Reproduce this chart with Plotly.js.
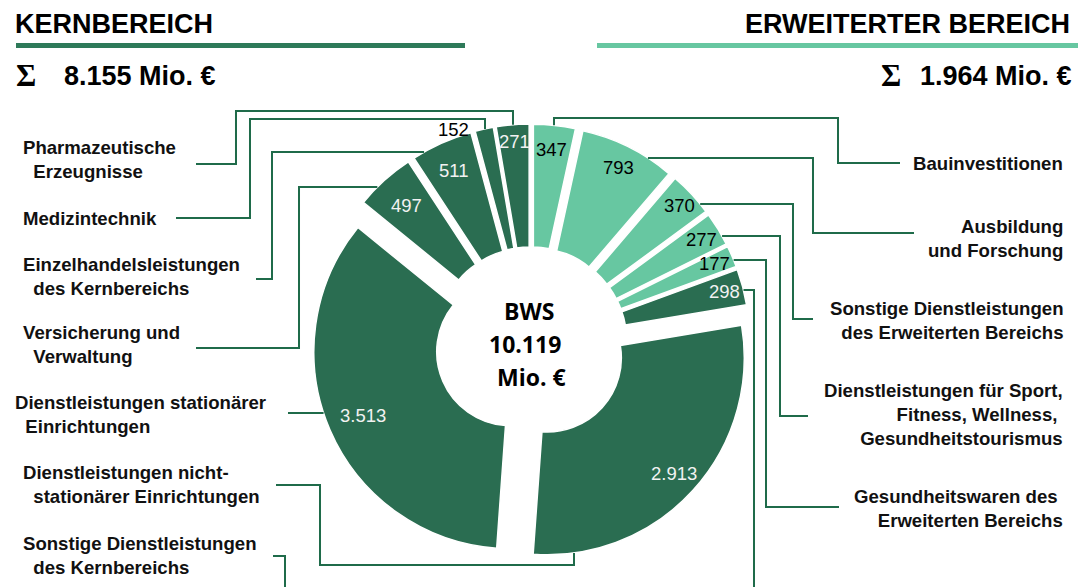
<!DOCTYPE html>
<html><head><meta charset="utf-8">
<script src="https://cdn.plot.ly/plotly-3.0.1.min.js"></script>
<style>html,body{margin:0;padding:0;background:#fff;overflow:hidden;} #chart{width:1078px;height:587px;}</style>
</head><body><div id="chart"></div>
<script>
// ---- data ----
const categories = [
  "Bauinvestitionen",
  "Ausbildung und Forschung",
  "Sonstige Dienstleistungen des Erweiterten Bereichs",
  "Dienstleistungen für Sport, Fitness, Wellness, Gesundheitstourismus",
  "Gesundheitswaren des Erweiterten Bereichs",
  "Sonstige Dienstleistungen des Kernbereichs",
  "Dienstleistungen nicht-stationärer Einrichtungen",
  "Dienstleistungen stationärer Einrichtungen",
  "Versicherung und Verwaltung",
  "Einzelhandelsleistungen des Kernbereichs",
  "Medizintechnik",
  "Pharmazeutische Erzeugnisse"
];
const values = [347, 793, 370, 277, 177, 298, 2913, 3513, 497, 511, 152, 271];
const groups = ["E","E","E","E","E","K","K","K","K","K","K","K"];
const labelLines = [
  ["Bauinvestitionen"],
  ["Ausbildung", "und Forschung"],
  ["Sonstige Dienstleistungen", "des Erweiterten Bereichs"],
  ["Dienstleistungen für Sport,", "Fitness, Wellness,\u00a0", "Gesundheitstourismus"],
  ["Gesundheitswaren des\u00a0", "Erweiterten Bereichs"],
  ["Sonstige Dienstleistungen", "\u00a0\u00a0des Kernbereichs"],
  ["Dienstleistungen nicht-", "\u00a0\u00a0stationärer Einrichtungen"],
  ["Dienstleistungen stationärer", "\u00a0\u00a0Einrichtungen"],
  ["Versicherung und", "\u00a0\u00a0Verwaltung"],
  ["Einzelhandelsleistungen", "\u00a0\u00a0des Kernbereichs"],
  ["Medizintechnik"],
  ["Pharmazeutische", "\u00a0\u00a0Erzeugnisse"]
];
const groupTitles = {K: "KERNBEREICH", E: "ERWEITERTER BEREICH"};
const centerLabel = "BWS";
const unit = "Mio. €";

// ---- styling / layout ----
const DARK = "#2a6d51", LIGHT = "#67c7a1", LINE = "#1f6b4a", BAR_DARK = "#2e7a59";
const W = 1078, H = 587;
const X = px => px / W, Y = py => 1 - py / H;
const fmt = n => String(n).replace(/\B(?=(\d{3})+(?!\d))/g, ".");

const total = values.reduce((a, b) => a + b, 0);
const sumOf = g => values.reduce((a, v, i) => a + (groups[i] === g ? v : 0), 0);

const PULL = 0.1117, HOLE = 0.376;
const domX = [312 / W, 750 / W], domY = [1 - 562 / H, 1 - 124 / H];
const boxW = W * (domX[1] - domX[0]), boxH = H * (domY[1] - domY[0]);
const R = Math.min(boxW / 2, boxH / 2) / (1 + PULL);
const CX = W * (domX[0] + domX[1]) / 2, CY = H * (1 - domY[0]) - boxH / 2;

// radial position of each value label (fraction of radius, from the pulled slice centre)
const labelRadius = [0.875, 0.885, 0.915, 0.9, 0.905, 0.905, 0.87, 0.815, 0.83, 0.85, 1.0, 0.915];

let cum = 0; const starts = [], ends = [], mids = [];
values.forEach(v => { const a0 = cum / total * 2 * Math.PI; cum += v; const a1 = cum / total * 2 * Math.PI; starts.push(a0); ends.push(a1); mids.push((a0 + a1) / 2); });
const sc = i => [CX + PULL * R * Math.sin(mids[i]), CY - PULL * R * Math.cos(mids[i])];
function hitV(i, x, below) { const [sx, sy] = sc(i); const d = Math.sqrt(Math.max(0, R * R - (x - sx) ** 2)); return [x, below ? sy + d : sy - d]; }
function hitH(i, y, right) { const [sx, sy] = sc(i); const d = Math.sqrt(Math.max(0, R * R - (y - sy) ** 2)); return [right ? sx + d : sx - d, y]; }

const colors = groups.map(g => g === "K" ? DARK : LIGHT);

const pie = {
  type: "pie", values: values, labels: categories, sort: false, direction: "clockwise", rotation: 0,
  hole: HOLE, pull: values.map(() => PULL), textinfo: "none", hoverinfo: "label+value",
  marker: {colors: colors, line: {color: "#ffffff", width: 1.5}},
  domain: {x: domX, y: domY}, showlegend: false
};

const annotations = [];
const shapes = [];

// value labels
values.forEach((v, i) => {
  let px, py, xa = "center", col = groups[i] === "K" ? "#f2f2f2" : "#000000";
  const [sx, sy] = sc(i);
  if (i === 10) { // thin slice: label outside, beside its outer start corner
    px = sx + R * Math.sin(starts[i]) - 6; py = sy - R * Math.cos(starts[i]) - 2; xa = "right"; col = "#000000";
  } else {
    const rr = labelRadius[i] * R;
    px = sx + rr * Math.sin(mids[i]); py = sy - rr * Math.cos(mids[i]);
  }
  annotations.push({xref: "paper", yref: "paper", x: X(px), y: Y(py), xanchor: xa, yanchor: "middle", showarrow: false,
    text: fmt(v), font: {family: "Liberation Sans, Arial, sans-serif", size: 18.5, color: col}, borderpad: 0, borderwidth: 0});
});

// category labels: [x, yMid, side]
const labelPos = [
  [1063, 163, "R"], [1063, 238, "R"], [1063, 320, "R"], [1063, 414, "R"], [1063, 508, "R"],
  [23, 555.5, "L"], [23, 484.5, "L"], [15, 414.5, "L"], [23, 344.5, "L"], [23, 276.5, "L"], [23, 218, "L"], [23, 159, "L"]
];
labelLines.forEach((lines, i) => {
  const [px, py, side] = labelPos[i];
  annotations.push({xref: "paper", yref: "paper", x: X(px), y: Y(py), xanchor: side === "L" ? "left" : "right", yanchor: "middle",
    align: side === "L" ? "left" : "right", showarrow: false, text: lines.join("<br>"), borderpad: 0, borderwidth: 0,
    font: {family: "Liberation Sans, Arial, sans-serif", size: 18.6, color: "#111111", weight: "bold"}});
});

// leader lines: waypoints from the label, final segment reaches the (pulled) slice edge
const leaders = [
  {i: 0, pts: [[900,163],[838,163],[838,118],[554,118]], end: "Vtop"},
  {i: 1, pts: [[914,233],[813,233],[813,158]], end: "Hright"},
  {i: 2, pts: [[813,319],[793,319],[793,204]], end: "Hright"},
  {i: 3, pts: [[808,416],[780,416],[780,236]], end: "Hright"},
  {i: 4, pts: [[839,507],[766,507],[766,260]], end: "Hright"},
  {i: 5, pts: [[273,556],[285,556],[285,605],[754,605],[754,290]], end: "Hright"},
  {i: 6, pts: [[276,485],[320,485],[320,565],[574,565]], end: "Vbottom"},
  {i: 7, pts: [[288,413]], end: "Hleft"},
  {i: 8, pts: [[196,348],[299,348],[299,187]], end: "Hleft"},
  {i: 9, pts: [[256,279],[272,279],[272,152]], end: "Hleft"},
  {i: 10, pts: [[176,218],[250,218],[250,119],[485,119]], end: "Vtop"},
  {i: 11, pts: [[196,164],[236,164],[236,111],[513,111]], end: "Vtop"}
];
leaders.forEach(L => {
  const last = L.pts[L.pts.length - 1];
  let hit;
  if (L.end === "Vtop") hit = hitV(L.i, last[0], false);
  else if (L.end === "Vbottom") hit = hitV(L.i, last[0], true);
  else if (L.end === "Hright") hit = hitH(L.i, last[1], true);
  else hit = hitH(L.i, last[1], false);
  const all = L.pts.concat([hit]);
  const path = all.map((p, k) => (k ? "L" : "M") + X(p[0]).toFixed(5) + "," + Y(p[1]).toFixed(5)).join(" ");
  shapes.push({type: "path", xref: "paper", yref: "paper", path: path, line: {color: LINE, width: 2}, layer: "above"});
});

// header bars
shapes.push({type: "rect", xref: "paper", yref: "paper", x0: X(16), x1: X(465), y0: Y(48), y1: Y(43), fillcolor: BAR_DARK, line: {width: 0}});
shapes.push({type: "rect", xref: "paper", yref: "paper", x0: X(597), x1: X(1078), y0: Y(48), y1: Y(43), fillcolor: LIGHT, line: {width: 0}});

const hdrFont = {family: "Liberation Sans, Arial, sans-serif", size: 27, color: "#000000", weight: "bold"};
const sumFont = {family: "Liberation Sans, Arial, sans-serif", size: 27, color: "#000000", weight: "bold"};
annotations.push({xref: "paper", yref: "paper", x: X(15), y: Y(24), xanchor: "left", yanchor: "middle", showarrow: false, text: groupTitles.K, font: hdrFont, borderpad: 0, borderwidth: 0});
annotations.push({xref: "paper", yref: "paper", x: X(1070), y: Y(24), xanchor: "right", yanchor: "middle", showarrow: false, text: groupTitles.E, font: hdrFont, borderpad: 0, borderwidth: 0});
const sigFont = {family: "Liberation Serif, Times New Roman, serif", size: 31, color: "#000000", weight: "bold"};
annotations.push({xref: "paper", yref: "paper", x: X(16), y: Y(75), xanchor: "left", yanchor: "middle", showarrow: false, text: "Σ", font: sigFont, borderpad: 0, borderwidth: 0});
annotations.push({xref: "paper", yref: "paper", x: X(64), y: Y(76), xanchor: "left", yanchor: "middle", showarrow: false, text: fmt(sumOf("K")) + " " + unit, font: sumFont, borderpad: 0, borderwidth: 0});
annotations.push({xref: "paper", yref: "paper", x: X(881), y: Y(75), xanchor: "left", yanchor: "middle", showarrow: false, text: "Σ", font: sigFont, borderpad: 0, borderwidth: 0});
annotations.push({xref: "paper", yref: "paper", x: X(1072), y: Y(76), xanchor: "right", yanchor: "middle", showarrow: false, text: fmt(sumOf("E")) + " " + unit, font: sumFont, borderpad: 0, borderwidth: 0});

// centre text
const cFont = {family: "Open Sans, sans-serif", size: 23, color: "#000000", weight: "bold"};
const cShift = [-2, -6, 0];
[centerLabel, fmt(total), unit].forEach((t, k) => {
  annotations.push({xref: "paper", yref: "paper", x: X(CX + cShift[k]), y: Y(CY - 32 + 33 * k), xanchor: "center", yanchor: "middle", showarrow: false, text: t, font: cFont, borderpad: 0, borderwidth: 0});
});

const layout = {
  width: W, height: H, margin: {l: 0, r: 0, t: 0, b: 0}, paper_bgcolor: "#ffffff", plot_bgcolor: "#ffffff",
  showlegend: false, annotations: annotations, shapes: shapes
};
Plotly.newPlot("chart", [pie], layout, {displayModeBar: false, staticPlot: true});
</script>
</body></html>
